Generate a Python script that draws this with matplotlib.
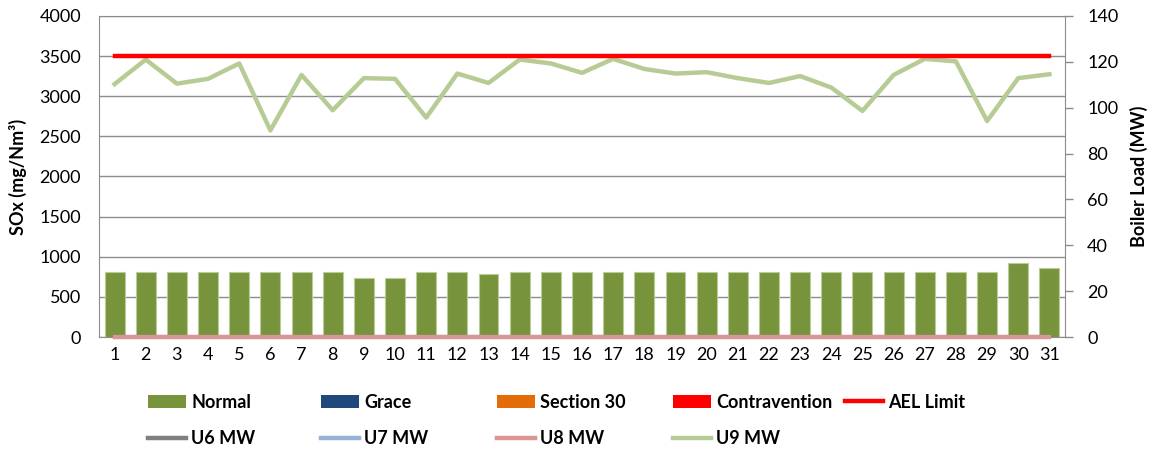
import matplotlib
matplotlib.use("Agg")
import matplotlib.pyplot as plt
from matplotlib.patches import Patch
from matplotlib.lines import Line2D

plt.rcParams['font.family'] = ['Lato', 'DejaVu Sans']

days = list(range(1, 32))
normal = [810, 810, 810, 810, 810, 810, 810, 810, 740, 740,
          810, 810, 790, 810, 810, 810, 810, 810, 810, 810,
          810, 810, 810, 810, 810, 810, 810, 810, 810, 920, 860]
grace = [0] * 31
section30 = [0] * 31
contravention = [0] * 31
ael_limit = [3500] * 31
u6_mw = [0] * 31
u7_mw = [0] * 31
u8_mw = [0] * 31
u9_mw = [110.3, 121.0, 110.5, 112.6, 119.3, 90.1, 114.3, 98.9, 112.9, 112.6,
         95.7, 114.9, 110.8, 121.0, 119.3, 115.2, 121.3, 116.9, 114.9, 115.5,
         112.9, 110.8, 113.8, 108.8, 98.6, 114.3, 121.3, 120.2, 94.2, 112.9, 114.6]

left_ticks = list(range(0, 4001, 500))
right_ticks = list(range(0, 141, 20))

c_normal = '#77933C'
c_grace = '#1F497D'
c_sec30 = '#E36C09'
c_contra = '#FF0000'
c_ael = '#FF0000'
c_u6 = '#7F7F7F'
c_u7 = '#95B3D7'
c_u8 = '#D99694'
c_u9 = '#B6CC94'
grid_c = '#8C8C8C'

fig = plt.figure(figsize=(11.55, 4.57), dpi=100)
ax = fig.add_axes([99/1155, 1-337/457, 966/1155, 321/457])
ax2 = ax.twinx()

w = 0.64
ax.bar(days, normal, width=w, color=c_normal, edgecolor='#B9CD96', linewidth=0.8, zorder=2)
ax.bar(days, grace, width=w, color=c_grace, zorder=2)
ax.bar(days, section30, width=w, color=c_sec30, zorder=2)
ax.bar(days, contravention, width=w, color=c_contra, zorder=2)

ax.set_xlim(0.5, 31.5)
ax.set_ylim(0, 4000)
ax.set_yticks(left_ticks)
ax.set_xticks(days)
ax.set_xticklabels([str(d) for d in days])
ax.grid(axis='y', color=grid_c, linewidth=1.0, zorder=0)
ax.set_axisbelow(True)
ax.tick_params(axis='y', length=0, pad=13, labelsize=13)
ax.tick_params(axis='x', length=0, pad=7, labelsize=13)
for s in ['left', 'bottom', 'top']:
    ax.spines[s].set_color(grid_c)
ax.spines['right'].set_visible(False)

ax2.set_ylim(0, 140)
ax2.set_yticks(right_ticks)
ax2.tick_params(axis='y', length=6, width=1, color=grid_c, pad=10, labelsize=13, direction='out')
ax2.spines['right'].set_color(grid_c)
ax2.spines['top'].set_visible(False)
ax2.spines['left'].set_visible(False)
ax2.spines['bottom'].set_visible(False)

ax2.plot(days, u6_mw, color=c_u6, linewidth=3, clip_on=False, zorder=3)
ax2.plot(days, u7_mw, color=c_u7, linewidth=3, clip_on=False, zorder=3)
ax2.plot(days, u8_mw, color=c_u8, linewidth=3, clip_on=False, zorder=3)
ax2.plot(days, u9_mw, color=c_u9, linewidth=3.2, zorder=4)
ax2.plot(days, ael_limit, color=c_ael, linewidth=3.2, transform=ax.transData, zorder=5)

ax.set_ylabel('SOx (mg/Nm³)', fontsize=13, fontweight='bold')
ax.yaxis.set_label_coords((27-99)/966, 0.5)
ax2.set_ylabel('Boiler Load (MW)', fontsize=13, fontweight='bold')
ax2.yaxis.set_label_coords((1130-99)/966, 0.5)

entries = [
    (Patch(facecolor=c_normal), 'Normal', 148, 402),
    (Patch(facecolor=c_grace), 'Grace', 321, 402),
    (Patch(facecolor=c_sec30), 'Section 30', 497, 402),
    (Patch(facecolor=c_contra), 'Contravention', 673, 402),
    (Line2D([], [], color=c_ael, linewidth=3.2), 'AEL Limit', 845, 402),
    (Line2D([], [], color=c_u6, linewidth=3.2), 'U6 MW', 148, 439),
    (Line2D([], [], color=c_u7, linewidth=3.2), 'U7 MW', 321, 439),
    (Line2D([], [], color=c_u8, linewidth=3.2), 'U8 MW', 497, 439),
    (Line2D([], [], color=c_u9, linewidth=3.2), 'U9 MW', 673, 439),
]
for h, lab, px, py in entries:
    fig.legend(handles=[h], labels=[lab], loc='center left',
               bbox_to_anchor=(px/1155, 1-py/457), frameon=False,
               borderpad=0, borderaxespad=0, handlelength=2.1, handletextpad=0.3,
               prop={'weight': 'bold', 'size': 13})

fig.savefig('out.png', dpi=100)
